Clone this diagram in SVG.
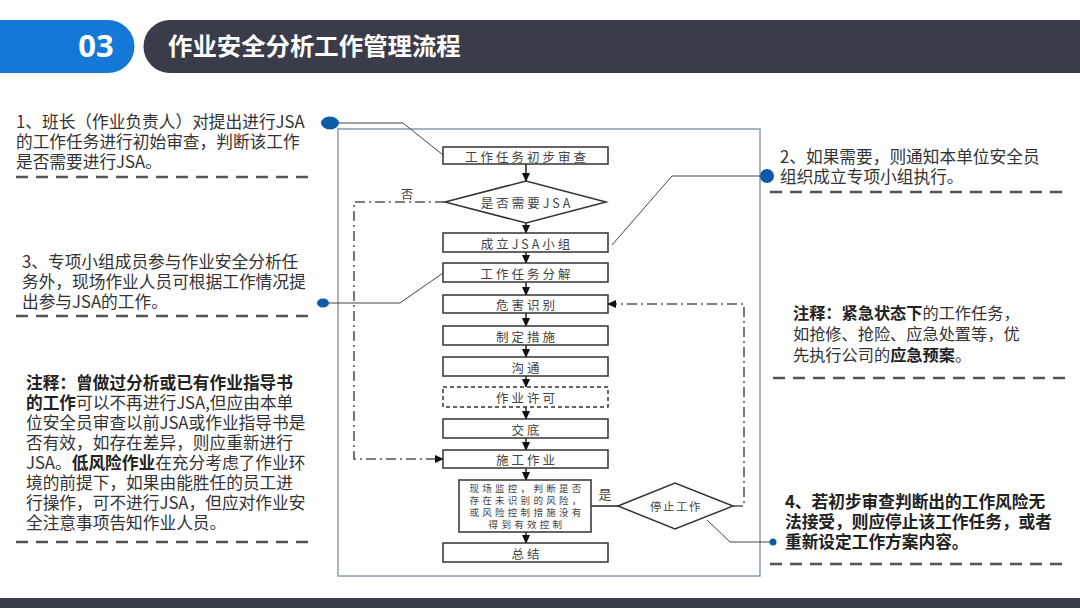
<svg xmlns="http://www.w3.org/2000/svg" width="1080" height="608" viewBox="0 0 1080 608">
<style>
.body{font-family:"Noto Sans CJK SC","Noto Sans",sans-serif;font-size:16.7px;fill:#333}
.b{font-weight:bold;fill:#222}
.sep{stroke:#555;stroke-width:2.5;stroke-dasharray:12 8;fill:none}
.box{fill:#fff;stroke:#333;stroke-width:1.5}
.ft{font-family:"Noto Sans CJK SC","Noto Sans",sans-serif;font-size:12.5px;fill:#444;letter-spacing:3px;text-anchor:middle;dominant-baseline:central}
.flow{stroke:#222;stroke-width:1.5;fill:none}
.dd{stroke:#555;stroke-width:1.6;fill:none;stroke-dasharray:10 4 2 4}
.call{stroke:#444;stroke-width:1;fill:none}
.dot{fill:#0d5aa7}
</style>
<defs>
<marker id="ah" markerUnits="userSpaceOnUse" markerWidth="9" markerHeight="8" refX="8" refY="4" orient="auto">
<path d="M0,0 L9,4 L0,8 Z" fill="#111"/>
</marker>
</defs>
<rect width="1080" height="608" fill="#fff"/>
<g id="header">
<path d="M0,20 H108 A26.5,26.5 0 0 1 108,73 H0 Z" fill="#1479d6"/>
<text x="96" y="57" font-family="'Noto Sans','Liberation Sans',sans-serif" font-size="31" font-weight="bold" fill="#fff" text-anchor="middle">03</text>
<path d="M170,20 H1080 V73 H170 A26.5,26.5 0 0 1 170,20 Z" fill="#3a3c49"/>
<text x="168" y="55" font-family="'Noto Sans CJK SC',sans-serif" font-size="24.4" font-weight="bold" fill="#fff">作业安全分析工作管理流程</text>
</g>
<rect id="footer" x="0" y="598" width="1080" height="10" fill="#3a3c49"/>
<rect id="frame" x="338" y="129" width="422" height="447" fill="#fff" stroke="#8b9db0" stroke-width="1.5"/>

<g id="connectors">
<path class="flow" d="M526,164 V181" marker-end="url(#ah)"/>
<path class="flow" d="M526,223 V233" marker-end="url(#ah)"/>
<path class="flow" d="M526,252 V263" marker-end="url(#ah)"/>
<path class="flow" d="M526,282 V295" marker-end="url(#ah)"/>
<path class="flow" d="M526,313 V326" marker-end="url(#ah)"/>
<path class="flow" d="M526,345 V357" marker-end="url(#ah)"/>
<path class="flow" d="M526,376 V387" marker-end="url(#ah)"/>
<path class="flow" d="M526,407 V419" marker-end="url(#ah)"/>
<path class="flow" d="M526,438 V450" marker-end="url(#ah)"/>
<path class="flow" d="M526,468 V480" marker-end="url(#ah)"/>
<path class="flow" d="M526,532 V543" marker-end="url(#ah)"/>
<path class="flow" d="M591,506 H618" stroke-width="1.2"/>
<path class="dd" d="M445,202 H354 V459 H443" marker-end="url(#ah)"/>
<path class="dd" d="M733,506 H744 V304 H608" marker-end="url(#ah)"/>
<text x="407" y="193" class="ft" style="letter-spacing:0">否</text>
<text x="605" y="493" class="ft" style="letter-spacing:0;font-size:13px">是</text>
<path class="call" d="M338,123 H403 L443,155"/>
<path class="call" d="M767,176 H672 L612,245"/>
<path class="call" d="M328,303 H400 L443,273"/>
<path class="call" d="M772,542 H730 L707,520"/>
</g>

<g id="n1"><rect class="box" x="443" y="147" width="165" height="17"/><text class="ft" x="527" y="156">工作任务初步审查</text></g>
<g id="n2"><polygon class="box" points="445,202 526,181 606,202 526,223"/><text class="ft" x="527" y="202">是否需要JSA</text></g>
<g id="n3"><rect class="box" x="443" y="233" width="165" height="19"/><text class="ft" x="527" y="243">成立JSA小组</text></g>
<g id="n4"><rect class="box" x="443" y="263" width="165" height="19"/><text class="ft" x="527" y="273">工作任务分解</text></g>
<g id="n5"><rect class="box" x="443" y="295" width="165" height="18"/><text class="ft" x="527" y="304">危害识别</text></g>
<g id="n6"><rect class="box" x="443" y="326" width="165" height="19"/><text class="ft" x="527" y="336">制定措施</text></g>
<g id="n7"><rect class="box" x="443" y="357" width="165" height="19"/><text class="ft" x="527" y="367">沟通</text></g>
<g id="n8"><rect class="box" x="443" y="387" width="165" height="20" style="stroke-dasharray:4 3"/><text class="ft" x="527" y="397">作业许可</text></g>
<g id="n9"><rect class="box" x="443" y="419" width="165" height="19"/><text class="ft" x="527" y="429">交底</text></g>
<g id="n10"><rect class="box" x="443" y="450" width="165" height="18"/><text class="ft" x="527" y="459">施工作业</text></g>
<g id="n11"><rect class="box" x="459" y="480" width="132" height="52"/>
<text class="ft" style="font-size:9.5px;letter-spacing:3.3px" x="527"><tspan x="527" y="488">现场监控，判断是否</tspan><tspan x="527" y="500">存在未识别的风险，</tspan><tspan x="527" y="512">或风险控制措施没有</tspan><tspan x="527" y="524">得到有效控制</tspan></text></g>
<g id="n12"><rect class="box" x="443" y="543" width="165" height="19"/><text class="ft" x="527" y="553">总结</text></g>
<g id="n13"><polygon class="box" points="618,506 675,483 733,506 675,529"/><text class="ft" style="font-size:11.5px;letter-spacing:1.5px" x="676" y="506">停止工作</text></g>

<g id="note1">
<ellipse class="dot" cx="330" cy="123" rx="9" ry="6.5"/>
<text class="body"><tspan x="16" y="128">1、班长（作业负责人）对提出进行JSA</tspan><tspan x="16" y="148">的工作任务进行初始审查，判断该工作</tspan><tspan x="16" y="168">是否需要进行JSA。</tspan></text>
<path class="sep" d="M16,177 H312"/>
</g>
<g id="note3">
<ellipse class="dot" cx="323" cy="303" rx="6" ry="4.5"/>
<text class="body"><tspan x="22" y="268">3、专项小组成员参与作业安全分析任</tspan><tspan x="22" y="288">务外，现场作业人员可根据工作情况提</tspan><tspan x="22" y="308">出参与JSA的工作。</tspan></text>
<path class="sep" d="M16,316 H312"/>
</g>
<g id="noteL">
<text class="body"><tspan x="26" y="389" class="b">注释：曾做过分析或已有作业指导书</tspan><tspan x="26" y="409"><tspan class="b">的工作</tspan>可以不再进行JSA,但应由本单</tspan><tspan x="26" y="429">位安全员审查以前JSA或作业指导书是</tspan><tspan x="26" y="449">否有效，如存在差异，则应重新进行</tspan><tspan x="26" y="469">JSA。<tspan class="b">低风险作业</tspan>在充分考虑了作业环</tspan><tspan x="26" y="489">境的前提下，如果由能胜任的员工进</tspan><tspan x="26" y="509">行操作，可不进行JSA，但应对作业安</tspan><tspan x="26" y="529">全注意事项告知作业人员。</tspan></text>
<path class="sep" d="M16,542 H312"/>
</g>
<g id="note2">
<ellipse class="dot" cx="767" cy="176" rx="7" ry="7"/>
<text class="body"><tspan x="780" y="163">2、如果需要，则通知本单位安全员</tspan><tspan x="780" y="183">组织成立专项小组执行。</tspan></text>
<path class="sep" d="M770,192 H1064"/>
</g>
<g id="noteR">
<text class="body" style="font-size:16.2px"><tspan x="793" y="319"><tspan class="b">注释：紧急状态下</tspan>的工作任务，</tspan><tspan x="793" y="340">如抢修、抢险、应急处置等，优</tspan><tspan x="793" y="361">先执行公司的<tspan class="b">应急预案</tspan>。</tspan></text>
<path class="sep" d="M773,378 H1068"/>
</g>
<g id="note4">
<circle class="dot" cx="773" cy="542" r="3.5"/>
<text class="body b"><tspan x="785" y="508">4、若初步审查判断出的工作风险无</tspan><tspan x="785" y="528">法接受，则应停止该工作任务，或者</tspan><tspan x="785" y="548">重新设定工作方案内容。</tspan></text>
<path class="sep" d="M770,564 H1064"/>
</g>
</svg>
